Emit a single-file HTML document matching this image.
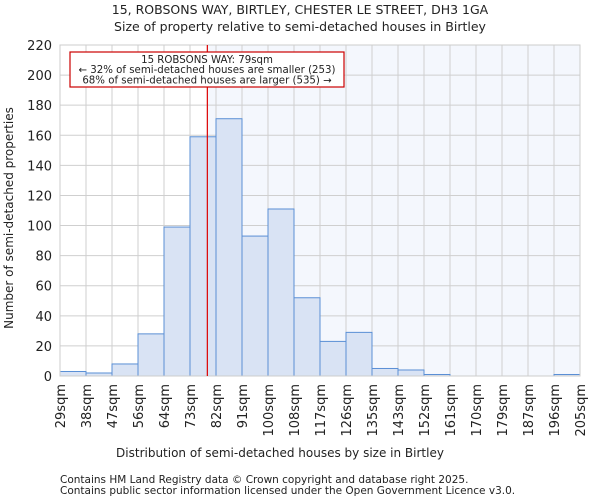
<!DOCTYPE html>
<html><head><meta charset="utf-8"><style>
body{margin:0;background:#fff;font-family:"DejaVu Sans","Liberation Sans",sans-serif}
svg text{font-family:"DejaVu Sans","Liberation Sans",sans-serif;fill:#222}
</style></head><body>
<svg id="c" width="600" height="500">
<text x="300" y="14" text-anchor="middle" font-size="12.5">15, ROBSONS WAY, BIRTLEY, CHESTER LE STREET, DH3 1GA</text>
<text x="300" y="31" text-anchor="middle" font-size="12.5">Size of property relative to semi-detached houses in Birtley</text>
<g id="plot"></g>
<text x="280" y="457" text-anchor="middle" font-size="12">Distribution of semi-detached houses by size in Birtley</text>
<text transform="translate(13,218) rotate(-90)" text-anchor="middle" font-size="12">Number of semi-detached properties</text>
<text x="60" y="483" font-size="10.5" fill="#444">Contains HM Land Registry data © Crown copyright and database right 2025.</text>
<text x="60" y="494" font-size="10.5" fill="#444">Contains public sector information licensed under the Open Government Licence v3.0.</text>
</svg>
<script>
const categories=["29sqm","38sqm","47sqm","56sqm","64sqm","73sqm","82sqm","91sqm","100sqm","108sqm","117sqm","126sqm","135sqm","143sqm","152sqm","161sqm","170sqm","179sqm","187sqm","196sqm","205sqm"];
const counts=[3,2,8,28,99,159,171,93,111,52,23,29,5,4,1,0,0,0,0,1];
const yTicks=[0,20,40,60,80,100,120,140,160,180,200,220];
const markerBin=5.667;
const NS="http://www.w3.org/2000/svg";
const L=60,R=580,T=45,B=376,YMAX=220;
const n=counts.length,bw=(R-L)/n;
const x=i=>L+i*bw;
const y=v=>B-(v/YMAX)*(B-T);
const g=document.getElementById('plot');
function mk(t,a){const e=document.createElementNS(NS,t);for(const k in a)e.setAttribute(k,a[k]);g.appendChild(e);return e;}
const mx=x(markerBin);
let e=mk('rect',{x:mx,y:T,width:R-mx,height:B-T,fill:'#f4f7fd'});


yTicks.forEach(v=>{
 let l=mk('line',{x1:L,x2:R,y1:y(v),y2:y(v),stroke:'#cfcfcf','stroke-width':1});
 
 
 let t=mk('text',{x:L-8,y:y(v)+5,'text-anchor':'end','font-size':13});
 t.textContent=v;
 
 
});
categories.forEach((c,i)=>{
 let l=mk('line',{x1:x(i),x2:x(i),y1:T,y2:B,stroke:'#cfcfcf','stroke-width':1});
 
 
 let t=mk('text',{transform:`translate(${x(i)+5},${B+8}) rotate(-90)`,'text-anchor':'end','font-size':13});
 t.textContent=c;
 
 
});
counts.forEach((v,i)=>{
 let r=mk('rect',{x:x(i),y:y(v),width:bw,height:B-y(v),fill:'#d9e3f4',stroke:'#5a8fd5','stroke-width':1});
 
 
});
e=mk('rect',{x:L,y:T,width:R-L,height:B-T,fill:'none',stroke:'#ccc'});


e=mk('line',{x1:mx,x2:mx,y1:T,y2:B,stroke:'#d00','stroke-width':1.2});


e=mk('rect',{x:70,y:52,width:274,height:35,fill:'#fff',stroke:'#c00','stroke-width':1.2});


["15 ROBSONS WAY: 79sqm","← 32% of semi-detached houses are smaller (253)","68% of semi-detached houses are larger (535) →"].forEach((s,i)=>{
 let t=mk('text',{x:207,y:63+i*10.2,'text-anchor':'middle','font-size':10.2});
 t.textContent=s;
 
 
});
</script>
</body></html>
